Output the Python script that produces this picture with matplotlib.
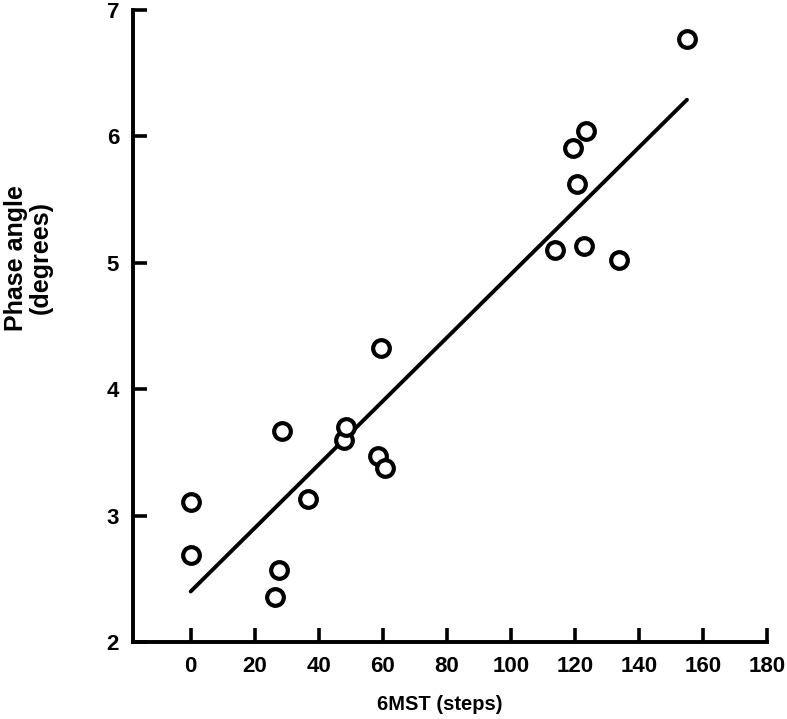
import matplotlib
matplotlib.use("Agg")
import matplotlib.pyplot as plt
import numpy as np

plt.rcParams['font.family'] = ['Liberation Sans', 'DejaVu Sans']
plt.rcParams['font.weight'] = 'bold'

# 6MST steps vs phase angle
steps = [0, 0, 26.3, 27.5, 28.4, 36.6, 47.8, 48.4, 59.4, 58.4, 60.6,
         113.8, 119.4, 123.4, 120.6, 122.7, 133.7, 155]
phase = [3.11, 2.69, 2.36, 2.57, 3.67, 3.13, 3.60, 3.70, 4.33, 3.47, 3.38,
         5.10, 5.91, 6.04, 5.62, 5.13, 5.02, 6.77]

# regression line as drawn
fit_intercept = 2.40
fit_slope = 0.0251
fit_range = [0, 155]

xticks = [0, 20, 40, 60, 80, 100, 120, 140, 160, 180]
yticks = [2, 3, 4, 5, 6, 7]

fig = plt.figure(figsize=(7.87, 7.19), dpi=100)
ax = fig.add_axes([0.169, 0.107, 0.9746 - 0.169, 0.986 - 0.107])

xl = np.array(fit_range)
ax.plot(xl, fit_intercept + fit_slope * xl, color='black', lw=2.8,
        solid_capstyle='round')
ax.plot(steps, phase, 'o', ms=12, mfc='white', mec='black', mew=3,
        linestyle='none')

ax.set_xlim(-18, 180)
ax.set_ylim(2, 7)
ax.set_xticks(xticks)
ax.set_yticks(yticks)
for s in ['top', 'right']:
    ax.spines[s].set_visible(False)
for s in ['left', 'bottom']:
    ax.spines[s].set_linewidth(2.8)
ax.tick_params(direction='in', length=10, width=2.6, labelsize=16, pad=10)
for lab in ax.get_xticklabels() + ax.get_yticklabels():
    lab.set_fontweight('bold')

fig.text(0.5585, 1 - 705 / 719, '6MST (steps)', ha='center', va='center',
         fontsize=14.5, fontweight='bold')
fig.text(0.036, 1 - 258 / 719, 'Phase angle\n(degrees)', ha='center',
         va='center', rotation=90, fontsize=18, fontweight='bold',
         multialignment='center', linespacing=1.0)

fig.savefig('out.png', dpi=100)
